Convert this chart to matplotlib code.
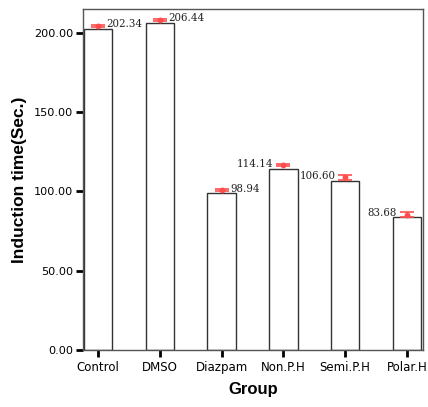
import matplotlib
matplotlib.use("Agg")
import matplotlib.pyplot as plt
from matplotlib import font_manager

groups = ["Control", "DMSO", "Diazpam", "Non.P.H", "Semi.P.H", "Polar.H"]
means = [202.34, 206.44, 98.94, 114.14, 106.60, 83.68]
# red error bars sit a little above the bar tops in the original output
err_center = [204.5, 208.0, 100.7, 116.5, 108.9, 85.4]
err_half = [0.6, 0.6, 0.6, 0.8, 1.7, 1.6]
label_side = ["right", "right", "right", "left", "left", "left"]
y_ticks = [0, 50, 100, 150, 200]


def label_font():
    # narrow serif for the value labels, falls back to Liberation Serif
    for f in font_manager.fontManager.ttflist:
        if f.fname.endswith("DejaVuSerifCondensed.ttf"):
            return font_manager.FontProperties(fname=f.fname, size=8.2)
    return font_manager.FontProperties(family="Liberation Serif", size=6.5)


fig = plt.figure(figsize=(4.28, 4.07), dpi=100)
ax = fig.add_axes([0.194, 0.140, 0.794, 0.838])

x = list(range(len(groups)))
ax.bar(x, means, width=0.46, color="white", edgecolor="#333333", linewidth=1.0, zorder=2)

ax.errorbar(
    x, err_center, yerr=err_half,
    fmt="o", markersize=3.2, color="#ff4d4d", ecolor="#ff4d4d",
    elinewidth=1.2, capsize=5, capthick=1.2, zorder=3
)

prop = label_font()
for xi, yc, m, side in zip(x, err_center, means, label_side):
    if side == "right":
        ax.annotate(f"{m:.2f}", (xi, yc), xytext=(6, 1.2), textcoords="offset points",
                    ha="left", va="center", fontproperties=prop, color="#222222")
    else:
        ax.annotate(f"{m:.2f}", (xi, yc), xytext=(-7, 1.2), textcoords="offset points",
                    ha="right", va="center", fontproperties=prop, color="#222222")

ax.set_xlim(-0.243, 5.26)
ax.set_ylim(0, 215)
ax.set_xticks(x)
ax.set_xticklabels(groups, fontsize=8.5, family="DejaVu Sans")
ax.set_yticks(y_ticks)
ax.set_yticklabels([f"{v:.2f}" for v in y_ticks], fontsize=8.1, family="DejaVu Sans")

ax.tick_params(axis="both", length=5, width=2, color="black")
ax.tick_params(axis="y", pad=2)
ax.tick_params(axis="x", pad=3)

for s in ax.spines.values():
    s.set_color("#555555")
    s.set_linewidth(1.0)

ax.set_xlabel("Group", fontsize=12, fontweight="bold", family="Liberation Sans", labelpad=6)
ax.set_ylabel("Induction time(Sec.)", fontsize=12.5, fontweight="bold", family="Liberation Sans", labelpad=5)

fig.savefig("out.png", dpi=100)
